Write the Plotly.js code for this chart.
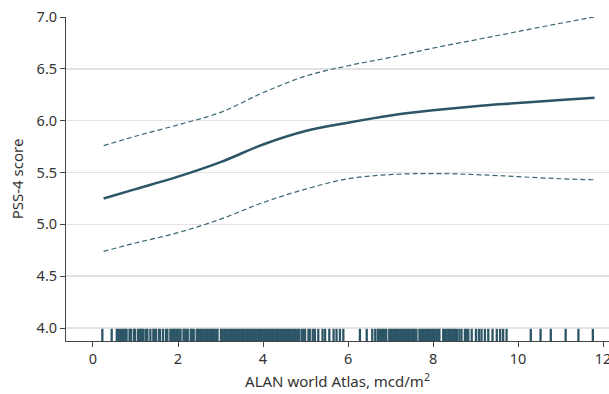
<!DOCTYPE html>
<html>
<head>
<meta charset="utf-8">
<script src="https://cdn.plot.ly/plotly-3.0.1.min.js"></script>
<style>html,body{margin:0;padding:0;background:#fff;}#chart{width:609px;height:394px;}</style>
</head>
<body>
<div id="chart"></div>
<script>
// ALAN values (mcd/m2) at which the fitted curve is read
const alan = [0.25, 1, 2, 3, 4, 5, 6, 7, 8, 9, 10, 11, 11.8];
// Fitted PSS-4 score
const fit = [5.25, 5.34, 5.46, 5.60, 5.77, 5.90, 5.98, 6.05, 6.10, 6.14, 6.17, 6.20, 6.22];
// Upper 95% CI
const upper = [5.76, 5.85, 5.96, 6.08, 6.27, 6.43, 6.53, 6.61, 6.70, 6.78, 6.86, 6.94, 7.00];
// Lower 95% CI
const lower = [4.74, 4.82, 4.92, 5.05, 5.21, 5.34, 5.44, 5.48, 5.49, 5.48, 5.46, 5.44, 5.43];
// Observed ALAN values (rug)
const rugValues = [
  0.22, 0.44,
  0.56,0.60,0.64,0.68,0.72,0.76,0.79,0.86,0.89,0.96,0.99,1.06,1.10,1.13,1.16,1.19,1.25,1.28,
  1.35,1.42,1.45,1.48,1.55,1.58,1.65,1.72,1.75,1.82,1.85,1.89,1.92,1.96,1.99,2.03,2.06,2.13,
  2.16,2.20,2.23,2.30,2.33,2.37,2.44,2.47,2.51,2.54,2.58,2.62,2.66,2.70,2.74,2.78,2.82,2.86,
  2.90,2.93,3.01,3.05,3.09,3.13,3.17,3.21,3.25,3.29,3.33,3.37,3.41,3.45,3.49,3.53,3.57,3.61,
  3.65,3.69,3.73,3.77,3.81,3.85,3.89,3.93,3.97,4.01,4.05,4.09,4.13,4.17,4.21,4.25,4.29,4.33,
  4.37,4.41,4.45,4.49,4.53,4.57,4.61,4.65,4.69,4.73,4.77,4.81,4.85,
  4.91,4.95,4.99,5.07,5.10,5.17,5.22,5.30,5.40,5.46,5.56,5.66,5.73,5.81,5.89,
  6.28,6.44,6.57,6.64,6.70,
  6.74,6.78,6.82,6.86,6.90,6.97,7.01,7.05,7.09,7.13,7.17,7.21,7.25,7.29,7.33,7.37,7.41,7.45,
  7.49,7.53,7.57,7.61,7.68,7.72,7.76,7.80,7.84,7.88,7.92,7.96,8.00,8.04,8.08,8.12,8.15,
  8.24,8.28,8.32,8.36,8.40,8.44,8.48,8.52,8.56,
  8.62,8.67,8.75,8.79,8.83,8.91,9.01,9.08,9.14,9.22,9.30,9.40,9.50,9.58,9.65,9.73,
  10.30,10.53,10.77,11.12,11.42,11.76
];
const xTicks = [0, 2, 4, 6, 8, 10, 12];
const yTicks = [4.0, 4.5, 5.0, 5.5, 6.0, 6.5, 7.0];

const col = '#2c5566';
const font = 'Noto Sans, Lato, sans-serif';

const traces = [
  {x: alan, y: upper, mode: 'lines', line: {color: '#3a6575', width: 1.2, dash: '5px,3px', shape: 'spline'}, hoverinfo: 'skip'},
  {x: alan, y: lower, mode: 'lines', line: {color: '#3a6575', width: 1.2, dash: '5px,3px', shape: 'spline'}, hoverinfo: 'skip'},
  {x: alan, y: fit, mode: 'lines', line: {color: col, width: 2.5, shape: 'spline'}, hoverinfo: 'skip'},
  {x: rugValues, y: rugValues.map(() => 3.925), mode: 'markers',
   marker: {symbol: 'line-ns-open', size: 10, color: col, line: {color: col, width: 2.3}}, hoverinfo: 'skip'}
];

const layout = {
  width: 609, height: 394,
  margin: {l: 66, r: 0, t: 17, b: 53},
  paper_bgcolor: '#fff', plot_bgcolor: '#fff',
  showlegend: false,
  font: {family: font, size: 14, color: '#333'},
  xaxis: {
    range: [-0.635, 12.14], tickvals: xTicks, ticktext: xTicks.map(String),
    showgrid: false, zeroline: false,
    showline: true, linecolor: '#444', linewidth: 1,
    ticks: 'outside', ticklen: 5, tickcolor: '#444',
    ticklabeloverflow: 'allow',
    tickfont: {family: font, size: 14.5, color: '#333'},
    title: {text: 'ALAN world Atlas, mcd/m<sup>2</sup>', font: {family: font, size: 15, color: '#333'}, standoff: 9}
  },
  yaxis: {
    range: [3.875, 7.0], tickvals: yTicks, ticktext: yTicks.map(v => v.toFixed(1)),
    showgrid: true, gridcolor: '#e2e2e2', gridwidth: 1.5, zeroline: false,
    showline: true, linecolor: '#444', linewidth: 1,
    ticks: 'outside', ticklen: 5, tickcolor: '#444',
    tickfont: {family: font, size: 14.5, color: '#333'},
    title: {text: 'PSS-4 score', font: {family: font, size: 15, color: '#333'}, standoff: 9}
  }
};

Plotly.newPlot('chart', traces, layout, {staticPlot: true, displayModeBar: false});
</script>
</body>
</html>
